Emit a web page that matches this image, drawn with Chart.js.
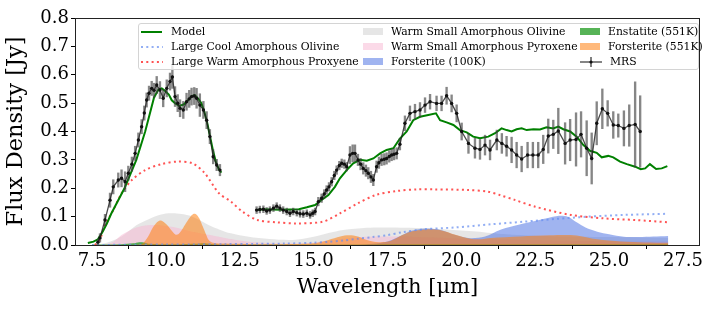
<!DOCTYPE html>
<html><head><meta charset="utf-8">
<script src="https://cdn.jsdelivr.net/npm/chart.js@4.4.0/dist/chart.umd.min.js"></script>
<style>
html,body{margin:0;padding:0;background:#fff;}
#wrap{position:relative;width:720px;height:311px;}
canvas{display:block;}
#legend{position:absolute;left:138px;top:23px;width:561px;height:47px;border:1px solid #d4d4d4;border-radius:3px;background:rgba(255,255,255,0.8);box-sizing:border-box;font-family:'DejaVu Serif';font-size:10.8px;color:#000;}
.item{position:absolute;height:14px;line-height:14px;white-space:nowrap;}
.h{position:absolute;}
</style></head>
<body><div id="wrap"><canvas id="c" width="720" height="311"></canvas><div id="legend"></div></div>
<script>
// ---------- data ----------
const xTicks = [7.5,10.0,12.5,15.0,17.5,20.0,22.5,25.0,27.5];
const yTicks = [0.0,0.1,0.2,0.3,0.4,0.5,0.6,0.7,0.8];

const mrs1X = [7.70,7.77,7.94,8.11,8.22,8.39,8.50,8.62,8.73,8.85,8.96,9.07,9.18,9.27,9.35,9.43,9.52,9.60,9.69,9.80,9.91,10.03,10.14,10.22,10.31,10.40,10.48,10.59,10.70,10.79,10.87,10.96,11.04,11.15,11.27,11.38,11.49,11.60,11.72,11.83];
const mrs1Y = [0.010,0.025,0.088,0.158,0.205,0.229,0.235,0.223,0.253,0.285,0.323,0.370,0.417,0.465,0.511,0.535,0.552,0.545,0.564,0.546,0.517,0.552,0.576,0.592,0.523,0.500,0.482,0.476,0.505,0.515,0.523,0.525,0.517,0.493,0.476,0.440,0.382,0.311,0.282,0.264];
const mrs1E = [0.01,0.015,0.02,0.025,0.025,0.025,0.03,0.035,0.025,0.025,0.025,0.025,0.025,0.025,0.025,0.025,0.025,0.025,0.03,0.03,0.03,0.03,0.03,0.04,0.035,0.03,0.03,0.03,0.03,0.03,0.03,0.03,0.035,0.04,0.03,0.03,0.025,0.025,0.02,0.02];

const mrs2X = [13.07,13.18,13.30,13.41,13.52,13.64,13.75,13.86,13.97,14.09,14.20,14.31,14.43,14.54,14.65,14.77,14.88,14.97,15.05,15.16,15.27,15.36,15.44,15.52,15.61,15.70,15.78,15.87,15.95,16.04,16.12,16.23,16.32,16.40,16.50,16.59,16.68,16.77,16.85,16.94,17.02,17.13,17.21,17.30,17.39,17.47,17.56,17.64,17.72,17.81,17.92,
  18.09,18.26,18.43,18.60,18.77,18.94,19.16,19.33,19.50,19.67,19.84,20.01,20.24,20.46,20.63,20.80,20.97,21.20,21.37,21.53,21.70,21.87,22.04,22.24,22.42,22.60,22.77,22.94,23.11,23.28,23.51,23.68,23.88,24.05,24.24,24.41,24.58,24.77,24.95,25.14,25.31,25.50,25.68,25.88,26.05];
const mrs2Y = [0.123,0.125,0.126,0.120,0.123,0.130,0.137,0.130,0.123,0.118,0.112,0.118,0.114,0.110,0.109,0.112,0.106,0.112,0.118,0.153,0.165,0.180,0.194,0.205,0.223,0.245,0.264,0.280,0.288,0.285,0.276,0.317,0.323,0.323,0.300,0.285,0.270,0.262,0.253,0.240,0.229,0.276,0.290,0.300,0.302,0.305,0.312,0.317,0.320,0.323,0.355,
  0.429,0.464,0.470,0.476,0.493,0.505,0.499,0.499,0.526,0.499,0.464,0.400,0.358,0.341,0.337,0.352,0.335,0.370,0.358,0.348,0.335,0.317,0.303,0.317,0.317,0.317,0.337,0.384,0.390,0.402,0.358,0.370,0.372,0.390,0.341,0.305,0.429,0.480,0.464,0.423,0.421,0.411,0.421,0.425,0.400];
const mrs2E = [0.012,0.012,0.012,0.012,0.012,0.012,0.012,0.012,0.012,0.012,0.012,0.012,0.012,0.012,0.012,0.012,0.012,0.012,0.012,0.015,0.015,0.015,0.015,0.015,0.015,0.015,0.015,0.015,0.015,0.015,0.015,0.03,0.03,0.03,0.02,0.02,0.02,0.02,0.02,0.02,0.02,0.02,0.02,0.02,0.02,0.02,0.02,0.02,0.02,0.02,0.02,
  0.026,0.026,0.026,0.026,0.026,0.026,0.026,0.026,0.03,0.03,0.03,0.03,0.035,0.035,0.035,0.035,0.035,0.035,0.035,0.035,0.045,0.045,0.045,0.045,0.045,0.045,0.05,0.06,0.05,0.08,0.073,0.073,0.094,0.08,0.097,0.09,0.076,0.07,0.045,0.047,0.041,0.062,0.073,0.15,0.126];

const model1X = [7.36,7.55,7.7,7.85,8.0,8.15,8.3,8.45,8.6,8.8,9.0,9.15,9.3,9.45,9.6,9.75,9.86,9.95,10.1,10.2,10.31,10.45,10.6,10.75,10.87,10.98,11.1,11.2,11.3,11.4,11.5,11.6,11.7,11.8,11.88];
const model1Y = [0.007,0.012,0.02,0.045,0.075,0.11,0.14,0.17,0.2,0.25,0.3,0.35,0.4,0.46,0.52,0.548,0.552,0.545,0.53,0.51,0.50,0.49,0.495,0.51,0.525,0.528,0.515,0.50,0.47,0.43,0.38,0.33,0.29,0.265,0.255];
const model2X = [13.07,13.3,13.6,13.9,14.2,14.5,14.77,15.05,15.27,15.5,15.72,15.89,16.12,16.34,16.57,16.8,17.02,17.25,17.47,17.7,17.92,18.15,18.37,18.6,18.88,19.14,19.28,19.5,19.73,19.95,20.18,20.4,20.63,20.91,21.14,21.36,21.53,21.7,21.87,22.04,22.21,22.44,22.66,22.88,23.11,23.28,23.45,23.68,23.9,24.13,24.35,24.58,24.75,24.97,25.14,25.37,25.6,25.88,26.07,26.22,26.38,26.59,26.78,26.97];
const model2Y = [0.123,0.126,0.125,0.124,0.125,0.126,0.133,0.141,0.159,0.176,0.205,0.235,0.264,0.288,0.300,0.297,0.305,0.323,0.335,0.341,0.375,0.40,0.44,0.452,0.458,0.464,0.44,0.432,0.423,0.405,0.397,0.382,0.376,0.382,0.394,0.411,0.405,0.40,0.408,0.411,0.405,0.408,0.407,0.415,0.411,0.417,0.408,0.40,0.382,0.352,0.332,0.325,0.309,0.314,0.309,0.294,0.285,0.276,0.267,0.27,0.285,0.268,0.27,0.278];

const coolOlX = [7.5,9,10,11,12,13,14,15,15.5,16,16.5,17,17.5,18,18.7,19.8,21,22.1,23.2,24.3,25.5,27];
const coolOlY = [0.0,0.001,0.002,0.002,0.003,0.004,0.005,0.008,0.011,0.016,0.022,0.028,0.035,0.045,0.055,0.062,0.073,0.082,0.092,0.1,0.106,0.11];

const warmPyX = [7.6,7.77,7.94,8.22,8.5,8.85,9.3,9.85,10.4,10.9,11.3,11.8,12.2,12.6,13.1,13.75,14.4,15.3,15.9,16.5,17.1,17.8,18.5,19.1,20.2,20.9,21.3,21.8,22.5,23.7,24.8,25.9,27.0];
const warmPyY = [0.0,0.02,0.07,0.123,0.182,0.229,0.264,0.285,0.294,0.288,0.255,0.182,0.153,0.117,0.088,0.08,0.076,0.082,0.112,0.147,0.176,0.19,0.196,0.196,0.194,0.188,0.176,0.159,0.135,0.106,0.094,0.088,0.08];

const smOlX = [7.5,8.0,8.5,9.0,9.4,9.7,10.0,10.3,10.6,10.9,11.2,11.5,11.8,12.2,12.8,13.5,14.3,15.0,15.5,16.0,16.8,17.5,18.5,19.5,20.5,21.0,21.5,22.5,23.5,25.0,27.0];
const smOlY = [0.0,0.008,0.03,0.07,0.09,0.103,0.111,0.112,0.108,0.1,0.085,0.068,0.055,0.041,0.029,0.021,0.018,0.029,0.042,0.053,0.061,0.062,0.06,0.055,0.048,0.042,0.038,0.033,0.03,0.028,0.025];

const smPyX = [7.8,8.2,8.5,9.0,9.4,9.8,10.2,10.6,11.0,11.5,12.0,12.5,13.0,14.0,15.0,15.5,16.0,16.5,17.0,17.5,18.0,18.5,19,20,21,22,23,24,25,26,27];
const smPyY = [0.0,0.01,0.035,0.062,0.07,0.07,0.064,0.055,0.045,0.035,0.025,0.016,0.01,0.006,0.008,0.015,0.022,0.027,0.03,0.03,0.03,0.028,0.026,0.022,0.02,0.018,0.016,0.014,0.013,0.012,0.012];

const fo100X = [16.5,17.0,17.5,18.0,18.3,18.8,19.3,19.8,20.3,20.8,21.3,21.7,22.1,22.5,22.9,23.3,23.6,23.9,24.2,24.6,25.0,25.5,26.0,26.5,27.0];
const fo100Y = [0.0,0.004,0.012,0.035,0.05,0.058,0.053,0.035,0.024,0.03,0.053,0.065,0.076,0.085,0.094,0.103,0.1,0.08,0.062,0.047,0.038,0.029,0.028,0.03,0.032];

const en551X = [7.5,8.5,8.9,9.1,9.25,9.45,9.7,10.5,11.0,11.3,11.6,12,14,16,18,20,22,24,26,27];
const en551Y = [0.002,0.003,0.006,0.010,0.009,0.004,0.003,0.003,0.004,0.006,0.003,0.002,0.002,0.002,0.003,0.003,0.003,0.003,0.003,0.003];

const fo551X = [9.0,9.2,9.4,9.55,9.7,9.8,9.9,10.05,10.2,10.32,10.42,10.55,10.7,10.85,10.95,11.05,11.15,11.25,11.35,11.45,11.6,12.0,13.0,14.0,15.0,15.5,15.9,16.2,16.5,16.8,17.2,17.6,18.0,18.3,18.8,19.3,19.8,20.3,20.6,21.0,22.0,23.0,23.6,24.0,24.6,25.4,26.2,27.0];
const fo551Y = [0.0,0.004,0.03,0.06,0.08,0.086,0.083,0.07,0.05,0.037,0.038,0.055,0.08,0.102,0.11,0.106,0.09,0.065,0.04,0.018,0.008,0.005,0.003,0.003,0.006,0.018,0.03,0.034,0.03,0.018,0.01,0.014,0.035,0.048,0.055,0.052,0.036,0.022,0.02,0.025,0.03,0.034,0.035,0.032,0.02,0.012,0.009,0.008];

// ---------- build ----------
function pts(xs, ys){ const n=Math.min(xs.length, ys.length); const o=[]; for(let i=0;i<n;i++) o.push({x:xs[i], y:ys[i]}); return o; }
function withGap(a, b){ return a.concat([{x:(a[a.length-1].x+b[0].x)/2, y:null}], b); }
function errs(xs, ys, es){ const n=Math.min(xs.length, ys.length, es.length); const o=[]; for(let i=0;i<n;i++) o.push({x:xs[i], y:[ys[i]-es[i], ys[i]+es[i]]}); return o; }

const FONT = "'DejaVu Serif', 'Liberation Serif', serif";
const dotted = [2, 3.3];

function fillDs(label, xs, ys, color, order){
  return {type:'line', label, data:pts(xs,ys), fill:'origin', backgroundColor:color, borderWidth:0, borderColor:'rgba(0,0,0,0)', pointRadius:0, tension:0.3, order};
}

const datasets = [
  {type:'line', label:'MRS', data:withGap(pts(mrs1X,mrs1Y), pts(mrs2X,mrs2Y)), borderColor:'rgba(30,30,30,0.8)', borderWidth:1.3, pointRadius:1.7, pointBackgroundColor:'#111', pointBorderWidth:0, spanGaps:false, order:0},
  {type:'bar', label:'MRS err', data:errs(mrs1X,mrs1Y,mrs1E).concat(errs(mrs2X,mrs2Y,mrs2E)), backgroundColor:'rgba(60,60,60,0.62)', borderWidth:0, barThickness:1.7, grouped:false, order:1},
  {type:'line', label:'Model', data:withGap(pts(model1X,model1Y), pts(model2X,model2Y)), borderColor:'#008000', borderWidth:2, pointRadius:0, spanGaps:false, order:2},
  {type:'line', label:'Large Warm Amorphous Proxyene', data:pts(warmPyX,warmPyY), borderColor:'rgba(255,40,40,0.8)', borderWidth:2, borderDash:dotted, pointRadius:0, tension:0.3, order:3},
  {type:'line', label:'Large Cool Amorphous Olivine', data:pts(coolOlX,coolOlY), borderColor:'rgba(100,140,240,0.7)', borderWidth:2, borderDash:dotted, pointRadius:0, tension:0.3, order:4},
  fillDs('Forsterite (551K)', fo551X, fo551Y, 'rgba(255,127,14,0.55)', 5),
  fillDs('Enstatite (551K)', en551X, en551Y, 'rgba(44,160,44,0.8)', 6),
  fillDs('Forsterite (100K)', fo100X, fo100Y, 'rgba(65,105,225,0.5)', 7),
  fillDs('Warm Small Amorphous Pyroxene', smPyX, smPyY, 'rgba(247,182,210,0.5)', 8),
  fillDs('Warm Small Amorphous Olivine', smOlX, smOlY, 'rgba(199,199,199,0.45)', 9)
];

const frame = {
  id:'frame',
  afterDraw(chart){
    const {ctx, chartArea:a} = chart;
    ctx.save(); ctx.strokeStyle='#222'; ctx.lineWidth=1;
    ctx.strokeRect(Math.round(a.left)+0.5, Math.round(a.top)+0.5, Math.round(a.right-a.left)-1, Math.round(a.bottom-a.top));
    ctx.restore();
  }
};

new Chart(document.getElementById('c'), {
  type:'line',
  data:{datasets},
  options:{
    responsive:false, animation:false, devicePixelRatio:1,
    layout:{padding:{left:0, right:20, top:18, bottom:0}},
    plugins:{legend:{display:false}, tooltip:{enabled:false}},
    scales:{
      x:{type:'linear', min:6.925, max:28.075, offset:false,
        afterBuildTicks(s){ s.ticks = xTicks.map(v=>({value:v})); },
        afterFit(s){ s.height = 66; },
        ticks:{font:{family:FONT, size:18}, color:'#000', padding:2, maxRotation:0, callback:v=>Number(v).toFixed(1)},
        grid:{drawOnChartArea:false, drawTicks:true, tickLength:4, color:'#000'},
        border:{display:false},
        title:{display:true, text:'Wavelength [μm]', font:{family:FONT, size:21}, color:'#000', padding:{top:0, bottom:11}}
      },
      y:{type:'linear', min:0, max:0.8,
        afterBuildTicks(s){ s.ticks = yTicks.map(v=>({value:v})); },
        afterFit(s){ s.width = 75; },
        ticks:{font:{family:FONT, size:18}, color:'#000', padding:2, callback:v=>Number(v).toFixed(1)},
        grid:{drawOnChartArea:false, drawTicks:true, tickLength:4, color:'#000'},
        border:{display:false},
        title:{display:true, text:'Flux Density [Jy]', font:{family:FONT, size:22.5}, color:'#000', padding:{top:3, bottom:0}}
      }
    }
  },
  plugins:[frame]
});

// ---------- legend (3 columns, column-major like the reference) ----------
const legendItems = [
  {col:0,row:0,label:'Model', kind:'line', color:'#008000'},
  {col:0,row:1,label:'Large Cool Amorphous Olivine', kind:'dot', color:'rgba(100,140,240,0.7)'},
  {col:0,row:2,label:'Large Warm Amorphous Proxyene', kind:'dot', color:'rgba(255,40,40,0.8)'},
  {col:1,row:0,label:'Warm Small Amorphous Olivine', kind:'patch', color:'rgba(199,199,199,0.45)'},
  {col:1,row:1,label:'Warm Small Amorphous Pyroxene', kind:'patch', color:'rgba(247,182,210,0.5)'},
  {col:1,row:2,label:'Forsterite (100K)', kind:'patch', color:'rgba(65,105,225,0.5)'},
  {col:2,row:0,label:'Enstatite (551K)', kind:'patch', color:'rgba(44,160,44,0.8)'},
  {col:2,row:1,label:'Forsterite (551K)', kind:'patch', color:'rgba(255,127,14,0.55)'},
  {col:2,row:2,label:'MRS', kind:'err', color:'#222'}
];
const colX = [2, 224, 441];
const rowY = [1, 16, 31];
const lg = document.getElementById('legend');
legendItems.forEach(it=>{
  const d = document.createElement('div');
  d.className='item'; d.style.left=colX[it.col]+'px'; d.style.top=rowY[it.row]+'px';
  let h='';
  if(it.kind==='line') h = `<span class="h" style="left:0;top:6px;width:21px;height:2px;background:${it.color}"></span>`;
  else if(it.kind==='dot') h = `<svg class="h" style="left:0;top:5px" width="22" height="4"><line x1="0" y1="2" x2="22" y2="2" stroke="${it.color}" stroke-width="2" stroke-dasharray="2 3.3"/></svg>`;
  else if(it.kind==='patch') h = `<span class="h" style="left:0;top:3px;width:20px;height:7px;background:${it.color}"></span>`;
  else h = `<svg class="h" style="left:0;top:1px" width="22" height="12"><line x1="0" y1="6" x2="22" y2="6" stroke="#333" stroke-width="1.2"/><line x1="11" y1="1" x2="11" y2="11" stroke="#555" stroke-width="1.5"/><circle cx="11" cy="6" r="1.6" fill="#111"/></svg>`;
  d.innerHTML = h + `<span style="position:absolute;left:${it.kind==='patch'?28:30}px;top:0">${it.label}</span>`;
  lg.appendChild(d);
});
</script>
</body></html>
